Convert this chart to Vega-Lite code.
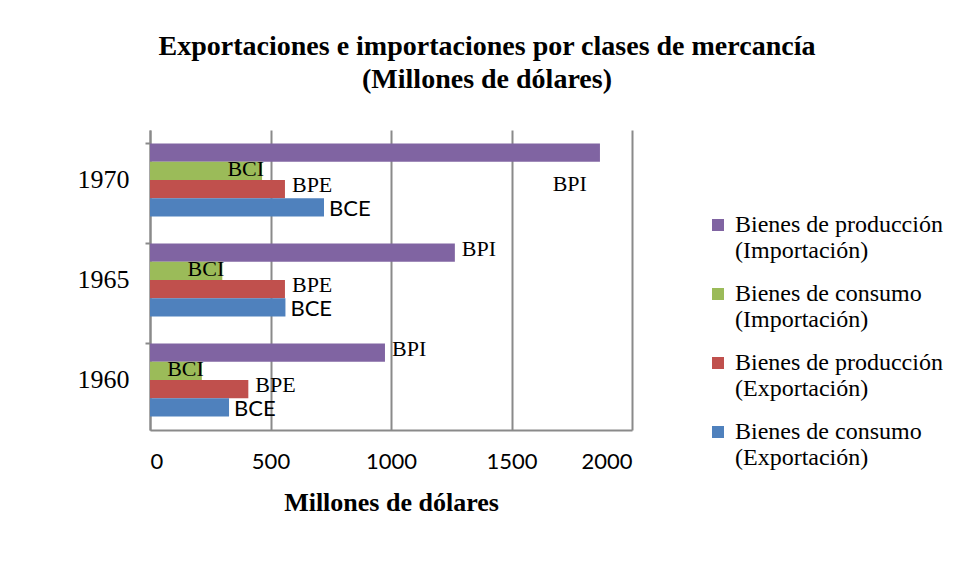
{
  "$schema": "https://vega.github.io/schema/vega-lite/v6.json",
  "width": 482,
  "height": 300,
  "autosize": {"type": "none"},
  "padding": {"left": 150, "top": 130, "right": 325, "bottom": 151},
  "background": "white",
  "title": {
    "text": ["Exportaciones e importaciones por clases de mercancía", "(Millones de dólares)"],
    "font": "Liberation Serif",
    "fontSize": 28,
    "fontWeight": "bold",
    "color": "black",
    "anchor": "middle",
    "frame": "group",
    "dx": 96,
    "offset": 36,
    "lineHeight": 33
  },
  "data": {
    "values": [
      {"anio": "1960", "serie": "Bienes de producción (Importación)", "sigla": "BPI", "valor": 975},
      {"anio": "1960", "serie": "Bienes de consumo (Importación)", "sigla": "BCI", "valor": 215},
      {"anio": "1960", "serie": "Bienes de producción (Exportación)", "sigla": "BPE", "valor": 408},
      {"anio": "1960", "serie": "Bienes de consumo (Exportación)", "sigla": "BCE", "valor": 328},
      {"anio": "1965", "serie": "Bienes de producción (Importación)", "sigla": "BPI", "valor": 1265},
      {"anio": "1965", "serie": "Bienes de consumo (Importación)", "sigla": "BCI", "valor": 300},
      {"anio": "1965", "serie": "Bienes de producción (Exportación)", "sigla": "BPE", "valor": 560},
      {"anio": "1965", "serie": "Bienes de consumo (Exportación)", "sigla": "BCE", "valor": 562},
      {"anio": "1970", "serie": "Bienes de producción (Importación)", "sigla": "BPI", "valor": 1867},
      {"anio": "1970", "serie": "Bienes de consumo (Importación)", "sigla": "BCI", "valor": 465},
      {"anio": "1970", "serie": "Bienes de producción (Exportación)", "sigla": "BPE", "valor": 560},
      {"anio": "1970", "serie": "Bienes de consumo (Exportación)", "sigla": "BCE", "valor": 722}
    ]
  },
  "encoding": {
    "y": {
      "field": "anio",
      "type": "nominal",
      "sort": "descending",
      "scale": {"paddingInner": 0.27, "paddingOuter": 0.135},
      "axis": {
        "title": null,
        "labelFont": "Liberation Serif",
        "labelFontSize": 26,
        "labelColor": "black",
        "labelPadding": 16,
        "bandPosition": 0,
        "tickSize": 5,
        "tickColor": "#8a8a8a",
        "tickWidth": 2,
        "domainColor": "#8a8a8a",
        "domainWidth": 2,
        "grid": false
      }
    },
    "yOffset": {
      "field": "serie",
      "type": "nominal",
      "sort": ["Bienes de producción (Importación)", "Bienes de consumo (Importación)", "Bienes de producción (Exportación)", "Bienes de consumo (Exportación)"]
    },
    "x": {
      "field": "valor",
      "type": "quantitative",
      "scale": {"domain": [0, 2000], "nice": false},
      "axis": {
        "values": [0, 500, 1000, 1500, 2000],
        "format": "d",
        "title": "Millones de dólares",
        "titleFont": "Liberation Serif",
        "titleFontSize": 26,
        "titleFontWeight": "bold",
        "titleColor": "black",
        "titlePadding": 17,
        "labelFont": "Lato",
        "labelFontSize": 22,
        "labelColor": "black",
        "labelPadding": 21,
        "ticks": false,
        "grid": true,
        "gridColor": "#8a8a8a",
        "gridWidth": 2,
        "domainColor": "#8a8a8a",
        "domainWidth": 2
      }
    }
  },
  "layer": [
    {
      "mark": {"type": "bar"},
      "encoding": {
        "color": {
          "field": "serie",
          "type": "nominal",
          "scale": {
            "domain": ["Bienes de producción (Importación)", "Bienes de consumo (Importación)", "Bienes de producción (Exportación)", "Bienes de consumo (Exportación)"],
            "range": ["#8064A2", "#9BBB59", "#C0504D", "#4F81BD"]
          },
          "legend": {
            "title": null,
            "orient": "none",
            "legendX": 556,
            "legendY": 83,
            "symbolType": "square",
            "symbolSize": 144,
            "symbolStrokeWidth": 0,
            "labelFont": "Liberation Serif",
            "labelFontSize": 24,
            "labelColor": "black",
            "labelLimit": 400,
            "labelOffset": 5,
            "rowPadding": 19,
            "labelExpr": "split(replace(datum.label, ' (', '\\n('), '\\n')"
          }
        }
      }
    },
    {
      "transform": [{"filter": "datum.sigla == 'BCI'"}],
      "mark": {"type": "text", "align": "right", "baseline": "middle", "dx": 2, "dy": -2, "font": "Liberation Serif", "fontSize": 22, "color": "black"},
      "encoding": {"text": {"field": "sigla"}}
    },
    {
      "transform": [{"filter": "datum.sigla == 'BPE' || (datum.sigla == 'BPI' && datum.anio != '1970')"}],
      "mark": {"type": "text", "align": "left", "baseline": "middle", "dx": 7, "dy": -4, "font": "Liberation Serif", "fontSize": 22, "color": "black"},
      "encoding": {"text": {"field": "sigla"}}
    },
    {
      "transform": [{"filter": "datum.sigla == 'BPI' && datum.anio == '1970'"}],
      "mark": {"type": "text", "align": "right", "baseline": "middle", "dx": -13, "dy": 31, "font": "Liberation Serif", "fontSize": 22, "color": "black"},
      "encoding": {"text": {"field": "sigla"}}
    },
    {
      "transform": [{"filter": "datum.sigla == 'BCE'"}],
      "mark": {"type": "text", "align": "left", "baseline": "middle", "dx": 5, "dy": 2, "font": "Lato", "fontSize": 22, "color": "black"},
      "encoding": {"text": {"field": "sigla"}}
    }
  ],
  "config": {
    "view": {"stroke": null}
  }
}
